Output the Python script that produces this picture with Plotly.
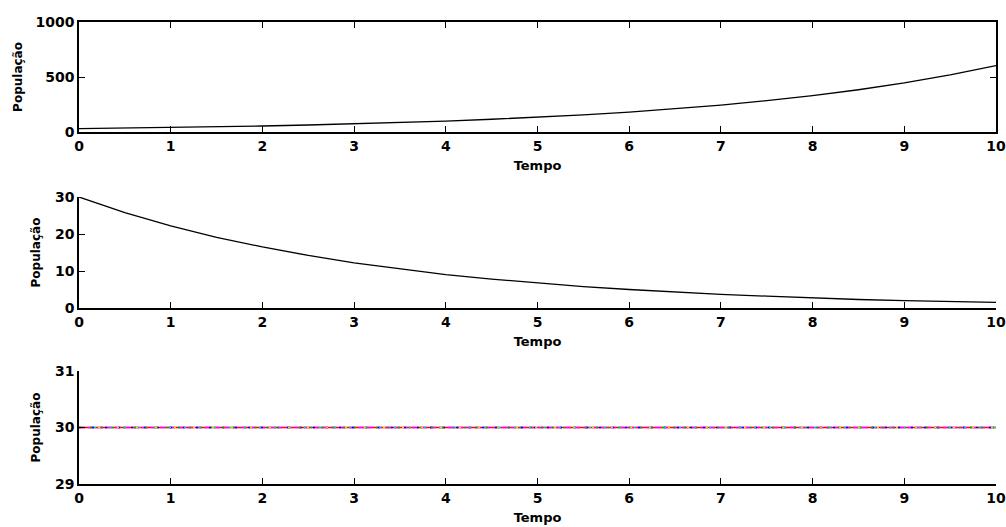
import plotly.graph_objects as go

# Data
tempo = [0, 0.5, 1, 1.5, 2, 2.5, 3, 3.5, 4, 4.5, 5, 5.5, 6, 6.5, 7, 7.5, 8, 8.5, 9, 9.5, 10]
pop_crescimento = [30, 34.9, 40.5, 47.0, 54.7, 63.5, 73.8, 85.7, 99.6, 115.7, 134.5,
                   156.2, 181.5, 210.9, 245.0, 284.6, 330.7, 384.2, 446.4, 518.6, 602.6]
pop_decaimento = [30, 25.8, 22.2, 19.1, 16.5, 14.2, 12.2, 10.5, 9.0, 7.8, 6.7,
                  5.8, 5.0, 4.3, 3.7, 3.2, 2.7, 2.3, 2.0, 1.7, 1.5]
pop_constante = [30] * len(tempo)

x_ticks = [0, 1, 2, 3, 4, 5, 6, 7, 8, 9, 10]
y1_ticks = [0, 500, 1000]
y2_ticks = [0, 10, 20, 30]
y3_ticks = [29, 30, 31]

FONT = "DejaVu Sans, sans-serif"
W, H = 1006, 527

def px_x(a, b):
    return [a / W, b / W]

def px_y(top, bottom):
    return [1 - bottom / H, 1 - top / H]

fig = go.Figure()
fig.add_trace(go.Scatter(x=tempo, y=pop_crescimento, mode="lines",
                         line=dict(color="black", width=1.3), xaxis="x", yaxis="y",
                         showlegend=False))
fig.add_trace(go.Scatter(x=tempo, y=pop_decaimento, mode="lines",
                         line=dict(color="black", width=1.3), xaxis="x2", yaxis="y2",
                         showlegend=False))
# multicoloured overlapping lines at constant value
styles = [("#ff0000", "solid", 1.5), ("#ff00ff", "6px,3px", 1.5), ("#0000ff", "2px,11px", 1.5),
          ("#00aa00", "2px,9px", 1.5), ("#00cccc", "2px,13px", 1.5), ("#dddd00", "2px,17px", 1.5)]
for c, d, w in styles:
    fig.add_trace(go.Scatter(x=tempo, y=pop_constante, mode="lines",
                             line=dict(color=c, width=w, dash=d), xaxis="x3", yaxis="y3",
                             showlegend=False))

tickfont = dict(family=FONT, size=14, color="black", weight="bold")
ytitlefont = dict(family=FONT, size=12, color="black", weight="bold")
xtitlefont = dict(family=FONT, size=13, color="black", weight="bold")

def xax(anchor, mirror):
    return dict(domain=px_x(79, 996), anchor=anchor, range=[0, 10], tickvals=x_ticks,
                ticks="inside", ticklen=6, tickwidth=1.3, tickcolor="black",
                showline=True, linecolor="black", linewidth=1.5, mirror=mirror,
                showgrid=False, zeroline=False, tickfont=tickfont, automargin=False,
                title=dict(text="Tempo", font=xtitlefont, standoff=8))

def yax(anchor, dom, rng, tv, mirror, standoff):
    return dict(domain=dom, anchor=anchor, range=rng, tickvals=tv,
                ticks="inside", ticklen=6, tickwidth=1.3, tickcolor="black",
                showline=True, linecolor="black", linewidth=1.5, mirror=mirror,
                showgrid=False, zeroline=False, tickfont=tickfont, automargin=False,
                title=dict(text="População", font=ytitlefont, standoff=standoff))

fig.update_layout(
    width=W, height=H,
    margin=dict(l=0, r=0, t=0, b=0),
    paper_bgcolor="white", plot_bgcolor="white",
    xaxis=xax("y", "ticks"),
    yaxis=yax("x", px_y(22, 132), [0, 1000], y1_ticks, "ticks", 10),
    xaxis2=xax("y2", False),
    yaxis2=yax("x2", px_y(197, 308), [0, 30], y2_ticks, False, 12),
    xaxis3=xax("y3", False),
    yaxis3=yax("x3", px_y(371, 484), [29, 31], y3_ticks, False, 12),
)

fig.write_html("out.html", config={"displayModeBar": False},
               post_script="document.body.style.margin='0px';")
